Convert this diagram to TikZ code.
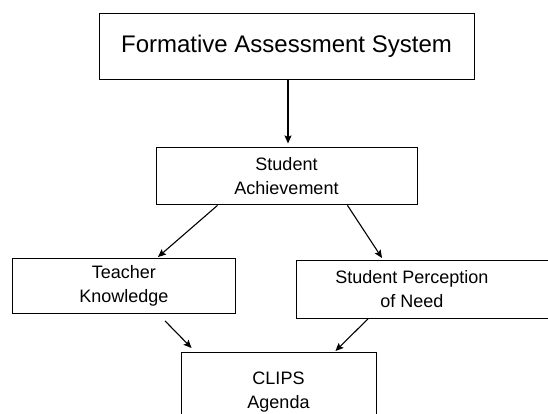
\documentclass[tikz,border=0pt]{standalone}
\usepackage{fontspec}
\setmainfont{Liberation Sans}
\usetikzlibrary{arrows.meta, positioning}
\tikzset{
  box/.style={draw=black, line width=0.9pt, align=center, inner sep=4pt,
              font=\fontsize{18}{24}\selectfont, text=black},
  bigbox/.style={box, font=\fontsize{24}{29}\selectfont},
  fl/.style={-{Stealth[length=8pt, width=7pt, inset=1.5pt]}, line width=1.1pt, draw=black},
}

\begin{document}
\begin{tikzpicture}
  \path[use as bounding box, clip] (0,0) rectangle (548pt,413pt);
  \node[bigbox, minimum width=375pt, minimum height=66pt] (fas) at (286.5pt,367pt)
    {Formative Assessment System};
  \node[box, minimum width=261pt, minimum height=57pt, below=68pt of fas] (sa)
    {Student\\Achievement};
  \node[box, minimum width=223pt, minimum height=55pt, anchor=north west] (tk) at (12pt,155pt)
    {Teacher\\Knowledge};
  % box runs off the right edge, text sits left of centre
  \node[box, inner xsep=0pt, minimum height=58pt, anchor=north west] (spn) at (296pt,153pt)
    {\parbox{231pt}{\centering Student Perception\\of Need}\hspace{30pt}};
  \node[box, minimum width=195pt, minimum height=79pt, anchor=north] (clips) at (278.5pt,61pt)
    {CLIPS\\Agenda};

  \draw[fl] ([xshift=1.5pt]fas.south) -- ([xshift=1.5pt, yshift=4pt]sa.north);
  \draw[fl] ([xshift=62pt]sa.south west) -- ([xshift=146pt, yshift=1pt]tk.north west);
  \draw[fl] ([xshift=-70pt]sa.south east) -- ([xshift=86pt, yshift=2pt]spn.north west);
  \draw[fl] ([xshift=153pt, yshift=-7pt]tk.south west) -- ([xshift=11pt, yshift=4pt]clips.north west);
  \draw[fl] ([xshift=72pt]spn.south west) -- ([xshift=-41pt, yshift=1pt]clips.north east);
\end{tikzpicture}
\end{document}
